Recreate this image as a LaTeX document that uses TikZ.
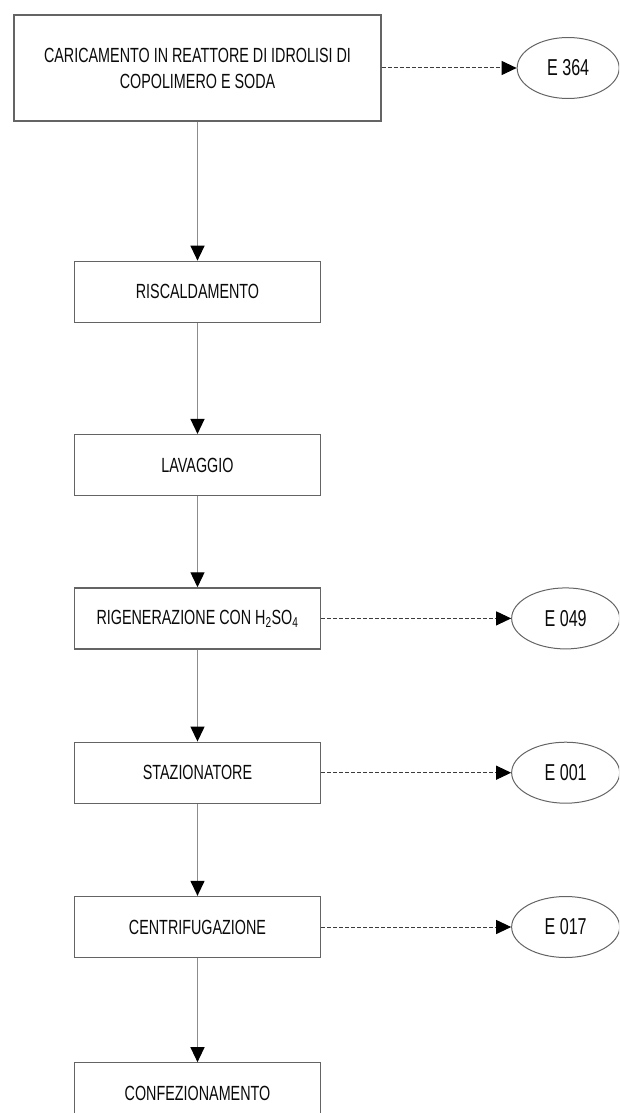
\documentclass[tikz,border=0pt]{standalone}
\usepackage{fontspec}
\setmainfont[FakeStretch=0.7]{Liberation Sans}
\usetikzlibrary{arrows.meta, positioning, shapes.geometric}
\definecolor{boxgray}{RGB}{100,100,100}
\definecolor{linegray}{RGB}{140,140,140}
\definecolor{dashgray}{RGB}{60,60,60}
\definecolor{textgray}{RGB}{10,10,10}

\begin{document}
\begin{tikzpicture}[
    x=1pt, y=1pt,
    >={Triangle[length=15pt, width=14pt, color=black]},
    stepbox/.style={draw=boxgray, line width=1.3pt, minimum width=246pt,
        minimum height=61pt, inner sep=0pt, text=textgray,
        font=\fontsize{20.5}{26}\selectfont},
    embox/.style={ellipse, draw=boxgray, line width=1pt, minimum width=108pt,
        minimum height=61pt, inner sep=0pt, text=textgray,
        font=\fontsize{23}{26}\selectfont},
    flow/.style={->, draw=linegray, line width=1.3pt},
    emis/.style={->, draw=dashgray, line width=1pt, dash pattern=on 4pt off 2pt}
  ]
  \clip (0,0) rectangle (619,-1113);
  % process steps
  \node[stepbox, minimum width=367pt, minimum height=106pt, align=center]
    (carica) at (197.5,-68) {CARICAMENTO IN REATTORE DI IDROLISI DI\\COPOLIMERO E SODA};
  \node[stepbox, below=139pt of carica] (risc) {RISCALDAMENTO};
  \node[stepbox, below=111pt of risc] (lav) {LAVAGGIO};
  \node[stepbox, below=91pt of lav] (rig) {RIGENERAZIONE CON H\textsubscript{2}SO\textsubscript{4}};
  \node[stepbox, below=92pt of rig] (staz) {STAZIONATORE};
  \node[stepbox, below=92pt of staz] (centr) {CENTRIFUGAZIONE};
  \node[stepbox, below=104pt of centr] (conf) {CONFEZIONAMENTO};
  % emissions
  \node[embox, minimum width=102pt, right=135pt of carica] (e364) {E 364};
  \node[embox, right=190pt of rig] (e049) {E 049};
  \node[embox, right=190pt of staz] (e001) {E 001};
  \node[embox, right=190pt of centr] (e017) {E 017};
  \draw[flow] (carica) -- (risc);
  \draw[flow] (risc) -- (lav);
  \draw[flow] (lav) -- (rig);
  \draw[flow] (rig) -- (staz);
  \draw[flow] (staz) -- (centr);
  \draw[flow] (centr) -- (conf);
  \draw[emis] (carica) -- (e364);
  \draw[emis] (rig) -- (e049);
  \draw[emis] (staz) -- (e001);
  \draw[emis] (centr) -- (e017);
\end{tikzpicture}
\end{document}
